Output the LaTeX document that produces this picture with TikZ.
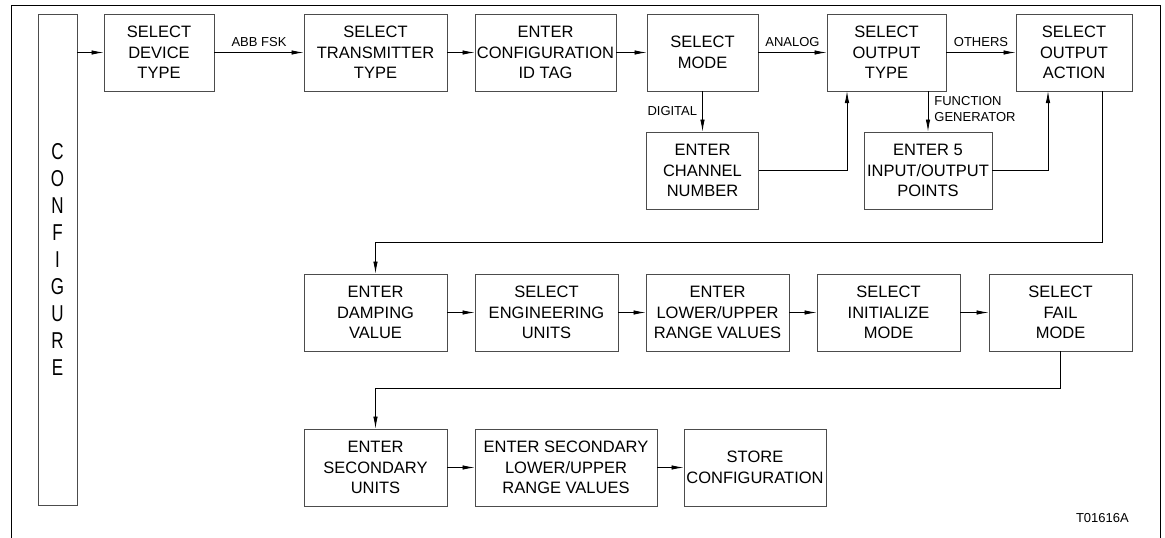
\documentclass[tikz,border=0pt]{standalone}
\usepackage{fontspec}
\setmainfont{Liberation Sans}
\usepackage{graphicx}
\usetikzlibrary{arrows.meta,positioning}
\definecolor{boxgray}{rgb}{0.3, 0.3, 0.3}

\begin{document}
\begin{tikzpicture}[x=1pt,y=-1pt,
	stepbox/.style={draw=boxgray,line width=0.9pt,align=center,inner sep=0pt,
		minimum height=77pt,font=\fontsize{16.5}{20.5}\selectfont},
	arr/.style={-{Latex[length=12pt,width=4.5pt]},line width=0.8pt},
	lbl/.style={font=\fontsize{13}{16}\selectfont,inner sep=2pt}]
	\useasboundingbox (0,0) rectangle (1165,538);
	% frame
	\draw[line width=0.9pt] (11,538) -- (11,5) -- (1160,5) -- (1160,538);
	% configure bar
	\node[draw=boxgray,line width=0.9pt,minimum width=39pt,minimum height=491pt,inner sep=0pt]
		(cfgbar) at (57.5,259.5) {};
	\foreach \ch [count=\i from 0] in {C,O,N,F,I,G,U,R,E}
		\node[font=\fontsize{17}{20}\selectfont,inner sep=0pt]
			(cfg\i) at (57.5,151.5+27*\i) {\scalebox{1}[1.35]{\ch}};
	% first row
	\node[stepbox,minimum width=110pt] (devtype) at (159,52.5) {SELECT\\DEVICE\\TYPE};
	\node[stepbox,minimum width=143pt] (txtype) at (375.5,52.5) {SELECT\\TRANSMITTER\\TYPE};
	\node[stepbox,minimum width=141pt] (cfgtag) at (545.5,52.5) {ENTER\\CONFIGURATION\\ID TAG};
	\node[stepbox,minimum width=111pt] (selmode) at (702.5,52.5) {SELECT\\MODE};
	\node[stepbox,minimum width=119pt] (outtype) at (886.5,52.5) {SELECT\\OUTPUT\\TYPE};
	\node[stepbox,minimum width=116pt] (outaction) at (1074,52.5) {SELECT\\OUTPUT\\ACTION};
	\node[stepbox,minimum width=112pt] (channel) at (702.5,170.5) {ENTER\\CHANNEL\\NUMBER};
	\node[stepbox,minimum width=128pt] (iopoints) at (928,170.5) {ENTER 5\\INPUT/OUTPUT\\POINTS};
	% second row
	\node[stepbox,minimum width=143pt] (damping) at (375.5,312.5) {ENTER\\DAMPING\\VALUE};
	\node[stepbox,minimum width=143pt] (engunits) at (546.5,312.5) {SELECT\\ENGINEERING\\UNITS};
	\node[stepbox,minimum width=143pt] (rangevals) at (717.5,312.5) {ENTER\\LOWER/UPPER\\RANGE VALUES};
	\node[stepbox,minimum width=143pt] (initmode) at (888.5,312.5) {SELECT\\INITIALIZE\\MODE};
	\node[stepbox,minimum width=143pt] (failmode) at (1060.5,312.5) {SELECT\\FAIL\\MODE};
	% third row
	\node[stepbox,minimum width=143pt] (secunits) at (375.5,467.5) {ENTER\\SECONDARY\\UNITS};
	\node[stepbox,minimum width=182pt] (secrange) at (566,467.5) {ENTER SECONDARY\\LOWER/UPPER\\RANGE VALUES};
	\node[stepbox,minimum width=142pt] (storecfg) at (755,467.5) {STORE\\CONFIGURATION};
	\node[lbl,anchor=east] (drawno) at (1131,518) {T01616A};
	% turning points
	\coordinate (chup) at (847,91);
	\coordinate (ioup) at (1048,91);
	\coordinate (actdown) at (1102,91);
	\coordinate (turnA) at (1102,242);
	\coordinate (turnB) at (1060.5,388.5);
	% connectors
	\draw[arr] (cfgbar.east |- devtype.west) -- (devtype.west);
	\draw[arr] (devtype) -- (txtype) node[lbl,midway,above=3pt] (abbfsk) {ABB FSK};
	\draw[arr] (txtype) -- (cfgtag);
	\draw[arr] (cfgtag) -- (selmode);
	\draw[arr] (selmode) -- (outtype) node[lbl,midway,above=3pt] (analog) {ANALOG};
	\draw[arr] (outtype) -- (outaction) node[lbl,midway,above=3pt] (others) {OTHERS};
	\draw[arr] (selmode) -- (channel) node[lbl,midway,left=3pt] (digital) {DIGITAL};
	\draw[arr] (outtype.south -| iopoints.north) -- (iopoints.north)
		node[lbl,midway,right=4pt,align=left,yshift=2pt] (fungen) {FUNCTION\\GENERATOR};
	\draw[arr] (channel.east) -| (chup);
	\draw[arr] (iopoints.east) -| (ioup);
	\draw[arr] (actdown) -- (turnA) -| (damping.north);
	\draw[arr] (damping) -- (engunits);
	\draw[arr] (engunits) -- (rangevals);
	\draw[arr] (rangevals) -- (initmode);
	\draw[arr] (initmode) -- (failmode);
	\draw[arr] (failmode.south) -- (turnB) -| (secunits.north);
	\draw[arr] (secunits) -- (secrange);
	\draw[arr] (secrange) -- (storecfg);
\end{tikzpicture}
\end{document}
